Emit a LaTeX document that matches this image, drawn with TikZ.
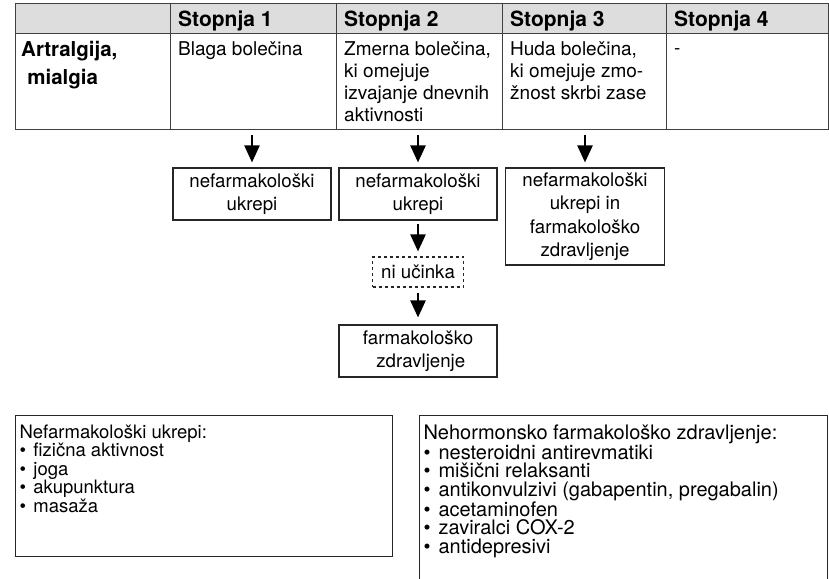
\documentclass[tikz,border=0pt]{standalone}
\usepackage{fontspec}
\usepackage{graphicx}
\setmainfont{TeX Gyre Heros}
\usetikzlibrary{arrows.meta,positioning}

\definecolor{headgray}{RGB}{221,221,221}
\newcommand{\pika}{•\hspace{0.4em}}

\tikzset{
  gridline/.style={draw=black!75, line width=1pt},
  head/.style={anchor=base west, inner sep=0pt, font=\fontsize{21}{22}\selectfont\bfseries},
  cell/.style={anchor=north west, inner sep=0pt, align=left, font=\fontsize{19}{22}\selectfont},
  box/.style={draw=black!85, line width=1.1pt, align=center, inner sep=3pt,
    minimum width=158pt, minimum height=52pt, font=\fontsize{18.7}{23.5}\selectfont},
  dashbox/.style={box, dashed, minimum width=91pt, minimum height=30pt},
  listbox/.style={draw=black!85, line width=1.1pt, anchor=north west,
    inner xsep=4pt, inner ysep=9pt, font=\fontsize{18.5}{18.6}\selectfont},
  arrow/.style={line width=2.4pt, -{Triangle[width=15pt,length=17pt]}},
}

\begin{document}
\begin{tikzpicture}[x=1pt, y=-1pt]
    \useasboundingbox (0,0) rectangle (829,578);
    \clip (0,0) rectangle (829,578);
    % Tabela
    \fill[headgray] (15,4) rectangle (828,34);
    \draw[gridline] (15,4) rectangle (828,129);
    \draw[gridline] (15,34) -- (828,34);
    \foreach \x in {170,336,502,666}
        \draw[gridline] (\x,4) -- (\x,129);
    \foreach \x/\n in {178/1,344/2,510/3,674/4}
        \node[head] (h\n) at (\x,27) {Stopnja \n};
    \node[cell, font=\fontsize{20.5}{28}\selectfont\bfseries] (art) at (21,41)
        {Artralgija,\\\hspace{0.3em}mialgia};
    \node[cell] (c1) at (178,41) {Blaga bolečina};
    \node[cell] (c2) at (344,41) {Zmerna bolečina,\\ki omejuje\\izvajanje dnevnih\\aktivnosti};
    \node[cell] (c3) at (510,41) {Huda bolečina,\\ki omejuje zmo-\\žnost skrbi zase};
    \node[head, font=\fontsize{19}{22}\selectfont] (c4) at (674,55) {-};
    % Ukrepi
    \node[box] (b1) at (252,194) {nefarmakološki\\ukrepi};
    \node[box] (b2) at (418,194) {nefarmakološki\\ukrepi};
    \node[box, minimum width=159pt, minimum height=97pt] (b3) at (585,216.5)
        {nefarmakološki\\ukrepi in\\farmakološko\\zdravljenje};
    \node[dashbox] (nu) at (418,272) {ni učinka};
    \node[box] (b4) at (418,351) {farmakološko\\\hspace{0.3em}zdravljenje};
    % Puščice
    \coordinate (s1) at (252,135);
    \coordinate (s2) at (418,135);
    \coordinate (s3) at (585,135);
    \draw[arrow, shorten >=5pt] (s1) -- (b1.north);
    \draw[arrow, shorten >=5pt] (s2) -- (b2.north);
    \draw[arrow, shorten >=5pt] (s3) -- (b3.north);
    \draw[arrow, shorten <=3pt, shorten >=5pt] (b2.south) -- (nu.north);
    \draw[arrow, shorten <=5pt, shorten >=7pt] (nu.south) -- (b4.north);
    % Seznama
    \node[listbox] (nf) at (15,415) {\parbox[t][123pt][t]{369pt}{%
        Nefarmakološki ukrepi:\\
        \pika fizična aktivnost\\
        \pika joga\\
        \pika akupunktura\\
        \pika masaža}};
    \node[listbox, font=\fontsize{20}{18.6}\selectfont] (nh) at (419,415)
        {\parbox[t][200pt][t]{400pt}{%
        Nehormonsko farmakološko zdravljenje:\\
        \pika nesteroidni antirevmatiki\\
        \pika mišični relaksanti\\
        \pika antikonvulzivi (gabapentin, pregabalin)\\
        \pika acetaminofen\\
        \pika zaviralci COX-2\\
        \pika antidepresivi}};
\end{tikzpicture}
\end{document}
